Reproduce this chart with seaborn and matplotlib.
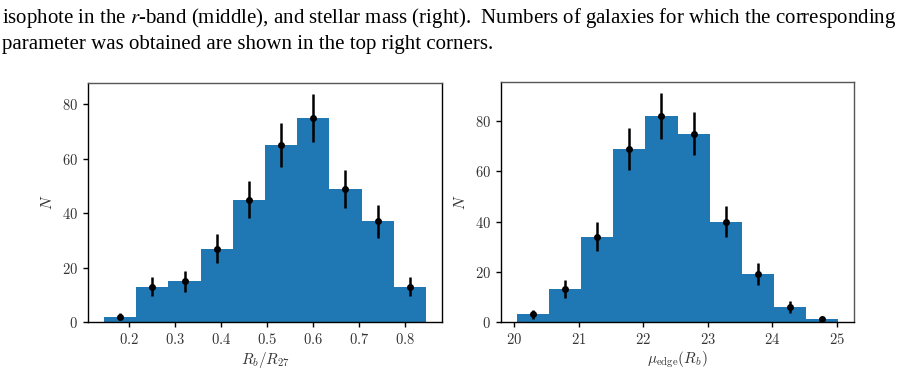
import numpy as np
import pandas as pd
import matplotlib
matplotlib.use("Agg")
import matplotlib.pyplot as plt
import seaborn as sns

# ---- data ----
left_edges = [0.145, 0.215, 0.285, 0.355, 0.425, 0.495, 0.565, 0.635, 0.705, 0.775, 0.845]
left_centers = [0.18, 0.25, 0.32, 0.39, 0.46, 0.53, 0.60, 0.67, 0.74, 0.81]
left_counts = [2, 13, 15, 27, 45, 65, 75, 49, 37, 13]
left_err = [1.41, 3.61, 3.87, 5.20, 6.71, 8.06, 8.66, 7.00, 6.08, 3.61]

right_edges = [20.04, 20.538, 21.036, 21.534, 22.032, 22.53, 23.028, 23.526, 24.024, 24.522, 25.02]
right_centers = [20.289, 20.787, 21.285, 21.783, 22.281, 22.779, 23.277, 23.775, 24.273, 24.771]
right_counts = [3, 13, 34, 69, 82, 75, 40, 19, 6, 1]
right_err = [1.73, 3.61, 5.83, 8.31, 9.06, 8.66, 6.32, 4.36, 2.45, 1.00]

left_xticks = [0.2, 0.3, 0.4, 0.5, 0.6, 0.7, 0.8]
left_yticks = [0, 20, 40, 60, 80]
right_xticks = [20, 21, 22, 23, 24, 25]
right_yticks = [0, 20, 40, 60, 80]

caption_lines = [
    "isophote in the $r$-band (middle), and stellar mass (right).  Numbers of galaxies for which the corresponding",
    "parameter was obtained are shown in the top right corners.",
]

sns.set_theme(style="ticks")
plt.rcParams["mathtext.fontset"] = "cm"
plt.rcParams["font.family"] = ["DejaVu Sans"]

BLUE = "#1f77b4"

fig = plt.figure(figsize=(8.98, 3.73), dpi=100)
W, H = 898, 373
ax1 = fig.add_axes([88 / W, 1 - 322 / H, 354 / W, 239 / H])
ax2 = fig.add_axes([501 / W, 1 - 322 / H, 353 / W, 240 / H])


def draw(ax, edges, centers, counts, err, xticks, yticks, xlabel, xfmt, right_gray):
    df = pd.DataFrame({"x": centers, "n": counts})
    sns.histplot(data=df, x="x", weights="n", bins=edges, ax=ax, color=BLUE,
                 alpha=1, linewidth=0, edgecolor="none", element="bars")
    ax.errorbar(centers, counts, yerr=err, fmt="o", color="black",
                markersize=4, elinewidth=1.8, capsize=0)
    ax.margins(x=0.05, y=0.05)
    ax.set_ylim(bottom=0)
    ax.set_xticks(xticks)
    ax.set_xticklabels([("$" + xfmt.format(v) + "$") for v in xticks])
    ax.set_yticks(yticks)
    ax.set_yticklabels([f"${v}$" for v in yticks])
    ax.set_xlabel(xlabel, fontsize=11, labelpad=2, color="#333333")
    ax.set_ylabel("$N$", fontsize=11, labelpad=5, color="#333333")
    ax.tick_params(axis="both", labelsize=10.5, length=3.5, width=1.0,
                   colors="black", labelcolor="#333333", pad=3.5)
    for s in ["left", "bottom"]:
        ax.spines[s].set_color("black")
        ax.spines[s].set_linewidth(1.0)
    ax.spines["top"].set_color("#555555")
    ax.spines["top"].set_linewidth(1.0)
    ax.spines["right"].set_color("#555555" if right_gray else "black")
    ax.spines["right"].set_linewidth(1.0)
    ax.grid(False)


draw(ax1, left_edges, left_centers, left_counts, left_err, left_xticks, left_yticks,
     "$R_b/R_{27}$", "{:.1f}", False)
draw(ax2, right_edges, right_centers, right_counts, right_err, right_xticks, right_yticks,
     r"$\mu_{\rm edge}(R_b)$", "{:d}", True)

# caption
fs = 13.0
t1 = fig.text(2 / W, 1 - 18 / H, caption_lines[0], ha="left", va="center",
              fontsize=fs, family="Liberation Serif", color="black", math_fontfamily="stix")
fig.canvas.draw()
w1 = t1.get_window_extent().width
fs = fs * 891 / w1
t1.set_fontsize(fs)
t2 = fig.text(2 / W, 1 - 44 / H, caption_lines[1], ha="left", va="center",
              fontsize=fs, family="Liberation Serif", color="black", math_fontfamily="stix")

fig.savefig("out.png", dpi=100)
